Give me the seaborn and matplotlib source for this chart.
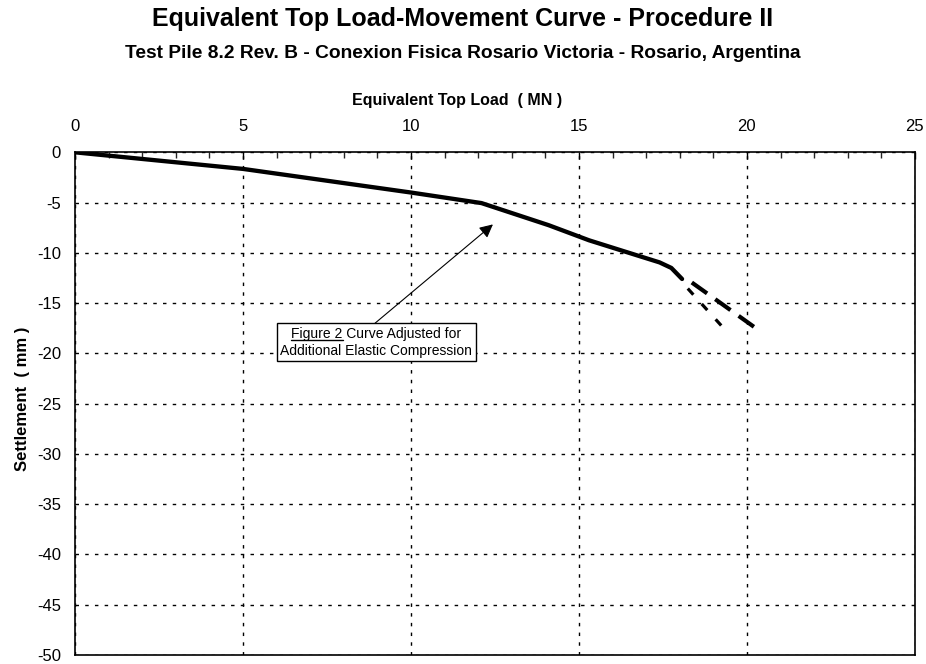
import numpy as np
import pandas as pd
import seaborn as sns
import matplotlib
matplotlib.use('Agg')
import matplotlib.pyplot as plt
from matplotlib.lines import Line2D

# equivalent top load (MN) vs settlement (mm)
load_main = [0, 5, 10, 12.1, 14.1, 15.3, 16.3, 17.4, 17.75, 18.07]
settle_main = [0, -1.65, -4.0, -5.05, -7.25, -8.75, -9.8, -10.95, -11.5, -12.6]

load_dash1 = [18.36, 20.24]
settle_dash1 = [-12.95, -17.43]

load_dash2 = [18.24, 19.29]
settle_dash2 = [-13.55, -17.43]

x_ticks = [0, 5, 10, 15, 20, 25]
y_ticks = [0, -5, -10, -15, -20, -25, -30, -35, -40, -45, -50]

title = 'Equivalent Top Load-Movement Curve - Procedure II'
subtitle = 'Test Pile 8.2 Rev. B - Conexion Fisica Rosario Victoria - Rosario, Argentina'

sns.set_style('white')
plt.rcParams['font.family'] = ['Liberation Sans', 'DejaVu Sans']
plt.rcParams['axes.unicode_minus'] = False
plt.rcParams['text.color'] = 'black'
plt.rcParams['axes.labelcolor'] = 'black'

fig = plt.figure(figsize=(9.26, 6.64), dpi=100)
ax = fig.add_axes([0.081, 0.0136, 0.907, 0.757])

df_main = pd.DataFrame({'load': load_main, 'settle': settle_main})
df_d1 = pd.DataFrame({'load': load_dash1, 'settle': settle_dash1})
df_d2 = pd.DataFrame({'load': load_dash2, 'settle': settle_dash2})

sns.lineplot(data=df_main, x='load', y='settle', sort=False, color='black',
             lw=3.1, ax=ax, solid_joinstyle='round', zorder=5)
l1 = sns.lineplot(data=df_d1, x='load', y='settle', sort=False, color='black',
                  lw=3.0, ax=ax, zorder=5).lines[-1]
l1.set_dashes((4.5, 2.4))
l2 = sns.lineplot(data=df_d2, x='load', y='settle', sort=False, color='black',
                  lw=2.3, ax=ax, zorder=5).lines[-1]
l2.set_dashes((2.6, 3.9))

ax.set_xlim(0, 25)
ax.set_ylim(-50, 0)
ax.set_xticks(x_ticks)
ax.set_xticks(np.arange(0, 26, 1), minor=True)
ax.set_yticks(y_ticks)
ax.xaxis.tick_top()
ax.xaxis.set_label_position('top')
ax.tick_params(axis='x', which='major', direction='in', length=5, width=1,
               pad=13, labelsize=12, colors='black')
ax.tick_params(axis='x', which='minor', direction='in', length=4, width=1,
               top=True, bottom=False)
ax.tick_params(axis='y', which='major', direction='in', length=3, width=1,
               pad=10, labelsize=12, colors='black')

ax.grid(True, which='major', color='black', lw=1.0, linestyle=(0, (2.5, 4.5)))
for s in ax.spines.values():
    s.set_visible(True)
    s.set_color('black')
    s.set_linewidth(1.2)

ax.set_xlabel('Equivalent Top Load  ( MN )', fontsize=11.5, fontweight='bold')
ax.xaxis.set_label_coords(0.455, 1.094)
ax.set_ylabel('Settlement  ( mm )', fontsize=12, fontweight='bold')
ax.yaxis.set_label_coords(-0.053, 0.51)

fig.text(0.5, 0.971, title, ha='center', va='center', fontsize=18,
         fontweight='bold')
fig.text(0.5, 0.920, subtitle, ha='center', va='center', fontsize=13.8,
         fontweight='bold')

# annotation with arrow
ax.annotate('', xy=(12.44, -7.17), xytext=(8.93, -17.0),
            arrowprops=dict(arrowstyle='-|>', color='black', lw=0.8,
                            mutation_scale=20, shrinkA=0, shrinkB=0))
txt = ax.text(8.97, -18.9, 'Figure 2 Curve Adjusted for\nAdditional Elastic Compression',
              ha='center', va='center', fontsize=10, linespacing=1.3,
              bbox=dict(boxstyle='square,pad=0.25', fc='white', ec='black', lw=1),
              zorder=6)

# underline "Figure 2"
fig.canvas.draw()
rend = fig.canvas.get_renderer()
ext = txt.get_window_extent(rend)
fp = txt.get_fontproperties()
w_line1, _, _ = rend.get_text_width_height_descent('Figure 2 Curve Adjusted for', fp, ismath=False)
w_fig2, _, _ = rend.get_text_width_height_descent('Figure 2', fp, ismath=False)
cx = (ext.x0 + ext.x1) / 2
x0 = cx - w_line1 / 2
yline = ext.y1 - ext.height / 2 + 2
W, H = fig.bbox.width, fig.bbox.height
fig.add_artist(Line2D([x0 / W, (x0 + w_fig2) / W], [yline / H, yline / H],
                      color='black', lw=1.0, zorder=7))

fig.savefig('out.png', dpi=100)
